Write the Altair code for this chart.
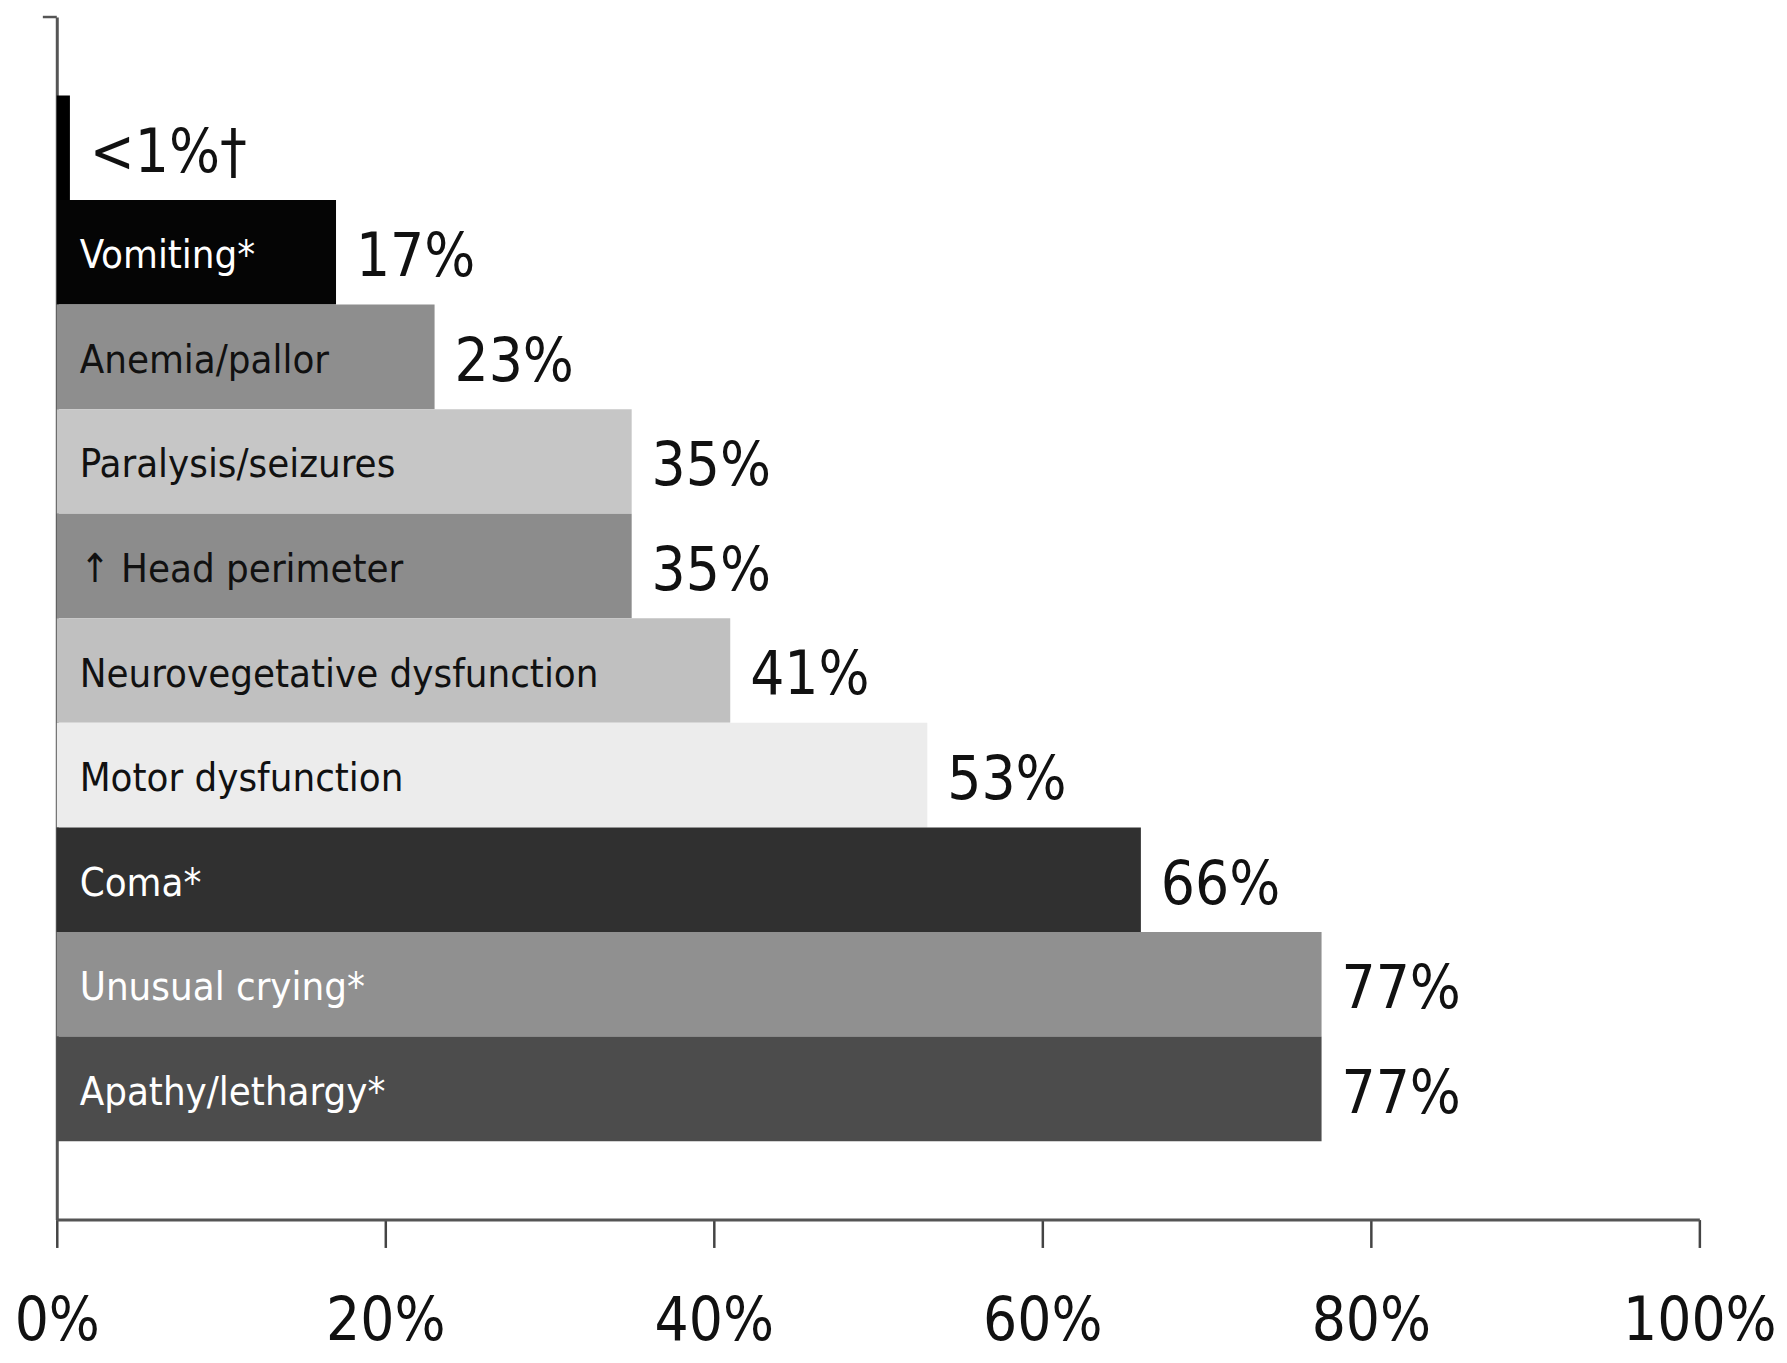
import altair as alt
import pandas as pd

categories = ["_top", "Vomiting*", "Anemia/pallor", "Paralysis/seizures", "\u2191 Head perimeter",
              "Neurovegetative dysfunction", "Motor dysfunction", "Coma*", "Unusual crying*", "Apathy/lethargy*"]
bar_text = ["", "Vomiting*", "Anemia/pallor", "Paralysis/seizures", "\u2191 Head perimeter",
            "Neurovegetative dysfunction", "Motor dysfunction", "Coma*", "Unusual crying*", "Apathy/lethargy*"]
values = [0.8, 17, 23, 35, 35, 41, 53, 66, 77, 77]
value_labels = ["<1%\u2020", "17%", "23%", "35%", "35%", "41%", "53%", "66%", "77%", "77%"]
bar_colors = ["#000000", "#050505", "#8e8e8e", "#c6c6c6", "#8c8c8c", "#c0c0c0", "#ececec", "#303030", "#909090", "#4c4c4c"]
text_colors = ["#ffffff", "#ffffff", "#111111", "#111111", "#111111", "#111111", "#111111", "#ffffff", "#ffffff", "#ffffff"]
x_ticks = [0, 20, 40, 60, 80, 100]

df = pd.DataFrame({
    "cat": categories, "text": bar_text, "value": values, "vlabel": value_labels,
    "color": bar_colors, "tcolor": text_colors,
})

FONT = "DejaVu Sans Condensed"

y_enc = alt.Y("cat:N", sort=categories, title=None,
              scale=alt.Scale(paddingInner=0, paddingOuter=0.75),
              axis=alt.Axis(labels=False, ticks=False, domainColor="#555555", domainWidth=3))

bars = alt.Chart(df).mark_bar(cornerRadius=0).encode(
    x=alt.X("value:Q", title=None,
            scale=alt.Scale(domain=[0, 100], nice=False),
            axis=alt.Axis(values=x_ticks, labelExpr="datum.value + '%'", grid=False,
                          labelFlush=False, labelOverlap=False,
                          domainColor="#555555", domainWidth=3, tickColor="#444444",
                          tickWidth=2.5, tickSize=28, labelPadding=45,
                          labelFont=FONT, labelFontSize=60, labelColor="#111111")),
    y=y_enc,
    color=alt.Color("color:N", scale=None),
)

cat_text = alt.Chart(df).mark_text(align="left", baseline="middle", dx=23, dy=4,
                                   font=FONT, fontSize=40).encode(
    x=alt.datum(0),
    y=alt.Y("cat:N", sort=categories),
    text="text:N",
    color=alt.Color("tcolor:N", scale=None),
)

val_text = alt.Chart(df).mark_text(align="left", baseline="middle", dx=20, dy=6,
                                   font=FONT, fontSize=60, color="#111111").encode(
    x="value:Q",
    y=alt.Y("cat:N", sort=categories),
    text="vlabel:N",
)

top_tick = alt.Chart(df.head(1)).mark_rule(color="#555555", strokeWidth=2.5).encode(
    x=alt.value(-14), x2=alt.value(0), y=alt.value(0)
)

chart = alt.layer(bars, cat_text, val_text, top_tick).properties(
    width=1650, height=1208,
    background="#ffffff",
    autosize=alt.AutoSizeParams(type="none"),
    padding={"left": 49, "top": 6, "right": 80, "bottom": 140},
).configure_view(strokeWidth=0, stroke=None)

chart.save("out.html", embed_options={"renderer": "svg", "actions": False})
